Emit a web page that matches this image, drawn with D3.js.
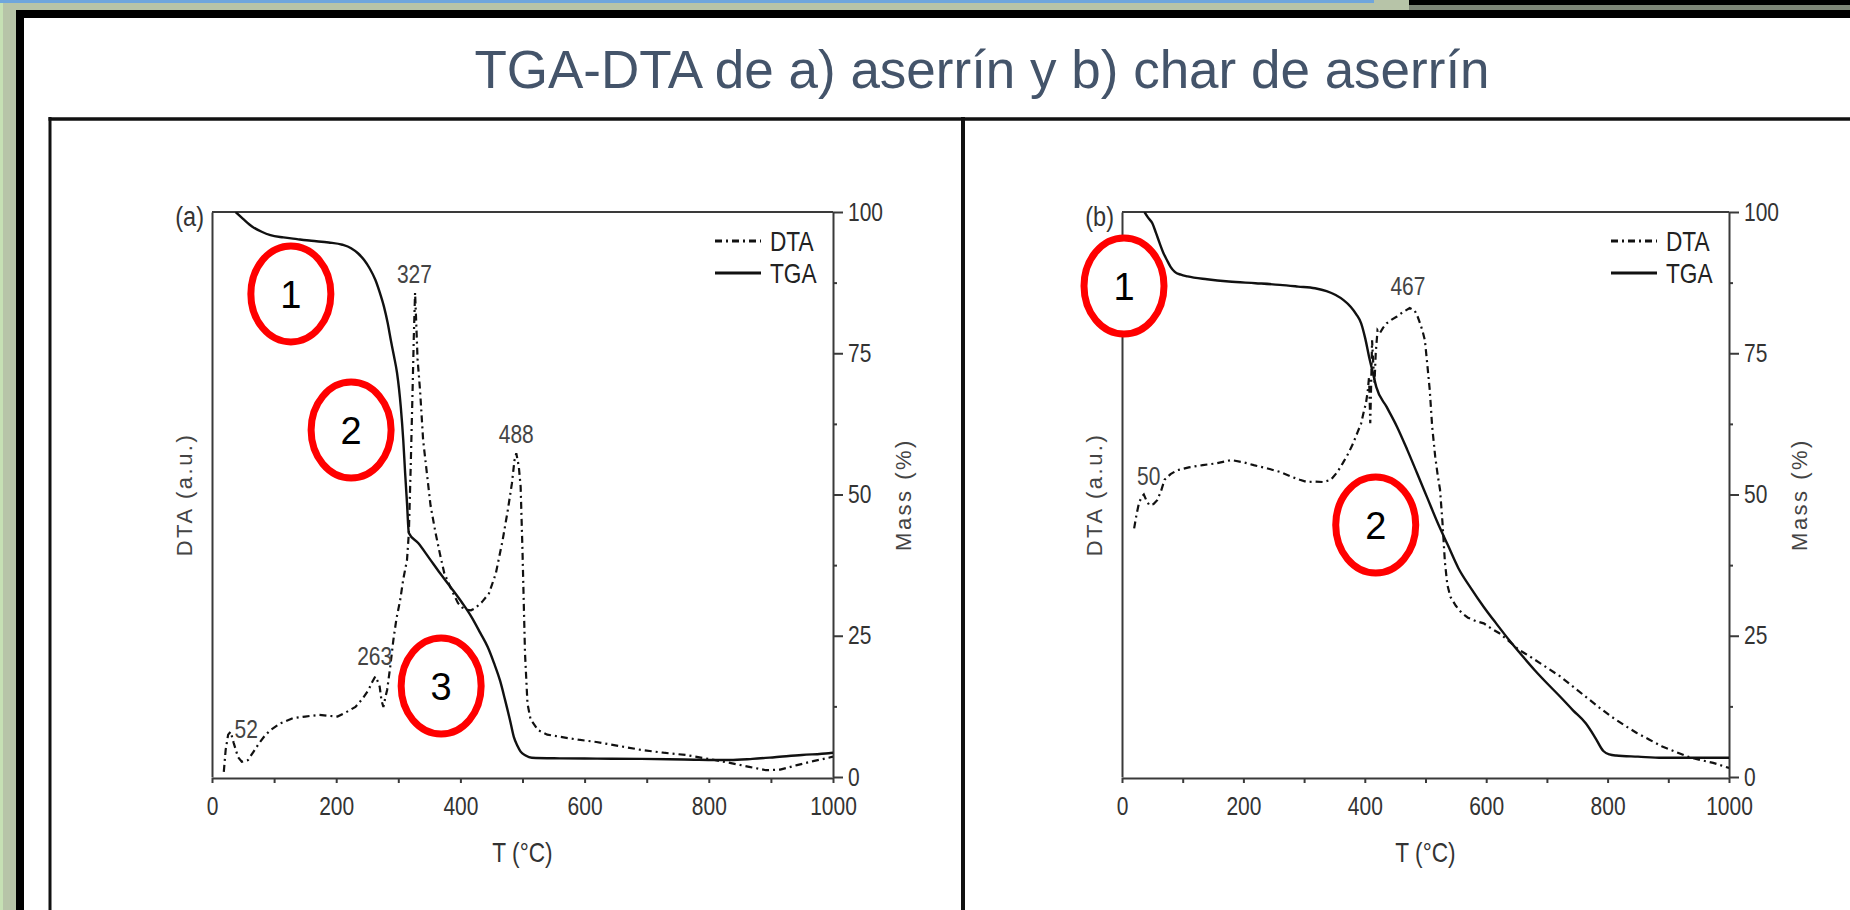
<!DOCTYPE html>
<html>
<head>
<meta charset="utf-8">
<script src="https://cdn.jsdelivr.net/npm/d3@7"></script>
<style>
	body { margin: 0; background: #fff; overflow: hidden; }
	svg { display: block; }
	/* no narrow face installed, so squeeze the regular one */
	.narrow, .axis text {
		font-family: "Liberation Sans Narrow", "Arial Narrow", "Liberation Sans", Arial, sans-serif;
		transform-box: fill-box;
		transform: scaleX(0.84);
	}
	.anchor-mid { transform-origin: center; }
	.anchor-start { transform-origin: left center; }
	.anchor-end { transform-origin: right center; }
	.axis text { font-size: 25px; fill: #333; }
	.axis path, .axis line { stroke: #3a3a3a; stroke-width: 2; }
</style>
</head>
<body>
<div id="chart"></div>
<script>
// ---- data ----
let x_ticks = [0, 200, 400, 600, 800, 1000];
let mass_ticks = [0, 25, 50, 75, 100];

// (a) sawdust
let tga_temp_a = [38, 50, 65, 80, 94, 115, 137, 160, 188, 210, 224, 235, 245, 254, 263, 270, 277, 283, 288, 293, 298, 304, 308, 311, 314, 317, 332, 350, 367, 385, 403, 418, 432, 444, 454, 464, 472, 480, 486, 492, 497, 505, 515, 560, 620, 691, 760, 834, 870, 906, 950, 993, 1000];
let tga_mass_a = [100, 98.8, 97.4, 96.5, 95.9, 95.5, 95.2, 94.9, 94.6, 94.2, 93.6, 92.7, 91.5, 90, 88, 85.8, 83.2, 80.3, 77.3, 74.5, 71.5, 65.5, 59.6, 53.8, 48.5, 43.2, 41.4, 38.7, 36.1, 33.5, 30.8, 28.3, 25.5, 23, 20.2, 17, 13.6, 10, 7.1, 5.5, 4.5, 3.8, 3.4, 3.3, 3.25, 3.2, 3.1, 3.0, 3.2, 3.5, 3.9, 4.2, 4.3];
let dta_temp_a = [19, 22, 26, 30, 35, 42, 48, 58, 67, 76, 85, 94, 110, 130, 150, 173, 190, 202, 215, 231, 242, 252, 258, 263, 267, 270, 273, 276, 279, 282, 287, 292, 297, 303, 308, 314, 317, 320, 323, 325, 327, 329, 331, 335, 340, 346, 352, 360, 367, 374, 385, 396, 403, 410, 417, 424, 435, 446, 457, 468, 476, 483, 487, 490, 494, 497, 500, 504, 508, 513, 525, 540, 561, 590, 619, 655, 691, 727, 763, 800, 834, 865, 892, 915, 942, 968, 993, 1000];
let dta_val_a = [0.9, 4.8, 7.5, 8, 6, 3.5, 2.7, 3, 4.5, 6, 7.3, 8.3, 9.5, 10.4, 10.7, 11, 10.8, 10.7, 11.4, 12.4, 13.8, 15.4, 16.8, 17.8, 16.9, 16, 13.5, 12.4, 14, 15.4, 19.5, 24.2, 28, 31.3, 35, 38.4, 43.2, 55, 68.5, 78, 85.7, 80, 74, 68.5, 59.6, 53.8, 48, 43.2, 39.5, 36.1, 33.3, 30.8, 30, 29.6, 29.5, 29.9, 31, 32.5, 36, 41.9, 47, 52, 56, 57.3, 55, 51.4, 40, 22, 13, 10.2, 8.3, 7.5, 7.1, 6.6, 6.2, 5.5, 4.8, 4.3, 3.9, 3.2, 2.5, 1.8, 1.2, 1.3, 2.1, 2.8, 3.4, 3.6];
let peak_label_a = ["52", "263", "327", "488"];
let peak_temp_a = [55, 262, 326, 490];
let peak_val_a = [6.9, 19.8, 87.4, 59.1];
let stage_label_a = ["1", "2", "3"];
let stage_temp_a = [127, 224, 369];
let stage_mass_a = [85.5, 61.4, 16.1];

// (b) sawdust char
let tga_temp_b = [37, 43, 50, 56, 62, 68, 74, 80, 87, 97, 108, 140, 176, 220, 260, 290, 318, 337, 352, 365, 377, 386, 394, 401, 407, 413, 419, 436, 453, 470, 486, 503, 520, 537, 554, 575, 596, 617, 638, 659, 680, 701, 722, 743, 764, 780, 793, 803, 814, 850, 890, 950, 1000];
let tga_mass_b = [100, 99, 98, 96.3, 94.5, 92.8, 91.5, 90.3, 89.4, 88.9, 88.6, 88.1, 87.7, 87.4, 87.1, 86.8, 86.5, 86, 85.3, 84.4, 83.2, 81.9, 80.3, 77.5, 74.4, 71.7, 69, 65.5, 62, 57.9, 53.8, 49.4, 45, 41, 37, 33.4, 30.1, 27.1, 24.2, 21.5, 18.9, 16.5, 14.2, 11.8, 9.5, 6.9, 4.6, 4.0, 3.8, 3.6, 3.4, 3.4, 3.4];
let dta_temp_b = [20, 24, 28, 32, 36, 40, 45, 52, 58, 64, 70, 80, 91, 110, 133, 155, 180, 200, 217, 240, 260, 278, 293, 305, 318, 332, 344, 355, 364, 373, 381, 388, 394, 398, 402, 405, 407, 409, 411, 412, 414, 416, 418, 421, 425, 430, 436, 445, 453, 463, 474, 482, 487, 491, 495, 499, 503, 507, 511, 516, 520, 524, 528, 532, 536, 541, 550, 560, 570, 583, 596, 608, 621, 638, 654, 671, 688, 705, 722, 743, 764, 785, 806, 827, 848, 869, 890, 911, 932, 953, 974, 1000];
let dta_val_b = [44, 46.5, 48.5, 49.5, 50, 49, 48.1, 48.3, 49, 50.5, 52.6, 53.6, 54.3, 54.8, 55.2, 55.5, 56.1, 55.7, 55.2, 54.6, 54, 53.2, 52.6, 52.2, 52.3, 52.2, 52.6, 54, 55.6, 57.3, 59.1, 61, 62.6, 64.5, 66.2, 68.5, 70.8, 62.6, 72, 77.3, 73, 69.7, 75, 79.1, 78.6, 79.5, 80.3, 81, 81.5, 82.3, 83, 82.6, 81.5, 80.3, 79, 77.3, 73, 68.5, 62, 56.7, 53.5, 50.8, 45, 38, 34, 31.9, 30.3, 29, 28.2, 27.6, 27.2, 26.3, 25.5, 24, 22.5, 21.4, 20.2, 19, 17.8, 16, 14.2, 12.4, 10.7, 9.2, 7.8, 6.6, 5.4, 4.5, 3.6, 3, 2.5, 1.6];
let peak_label_b = ["50", "467"];
let peak_temp_b = [44, 471];
let peak_val_b = [51.7, 85.3];
let stage_label_b = ["1", "2"];
let stage_temp_b = [3.3, 418];
let stage_mass_b = [86.9, 44.6];

let width = 1850;
let height = 910;

let svg = d3.select("#chart")
	.append("svg")
	.attr("width", width)
	.attr("height", height);

// ---- slide chrome ----
svg.append("rect").attr("x", 0).attr("y", 0).attr("width", 16).attr("height", height).attr("fill", "#b7c4a8");
svg.append("rect").attr("x", 0).attr("y", 0).attr("width", 3).attr("height", height).attr("fill", "#c6e0b4");
svg.append("rect").attr("x", 3).attr("y", 0).attr("width", width).attr("height", 10).attr("fill", "#b7c4a8");
svg.append("rect").attr("x", 0).attr("y", 0).attr("width", 1374).attr("height", 3).attr("fill", "#6fa6dc");
svg.append("rect").attr("x", 1409).attr("y", 0).attr("width", width).attr("height", 5).attr("fill", "#000");
svg.append("rect").attr("x", 1409).attr("y", 5).attr("width", width).attr("height", 5).attr("fill", "#7d8677");
svg.append("rect").attr("x", 16).attr("y", 10).attr("width", width).attr("height", 8).attr("fill", "#000");
svg.append("rect").attr("x", 16).attr("y", 10).attr("width", 8).attr("height", height).attr("fill", "#000");

svg.append("text")
	.attr("x", 982)
	.attr("y", 88)
	.attr("text-anchor", "middle")
	.attr("font-family", "'Liberation Sans', Arial, sans-serif")
	.attr("font-size", 53)
	.attr("fill", "#44546a")
	.text("TGA-DTA de a) aserrín y b) char de aserrín");

// picture frame
svg.append("line").attr("x1", 48.5).attr("x2", width).attr("y1", 119).attr("y2", 119).attr("stroke", "#111").attr("stroke-width", 3.5);
svg.append("line").attr("x1", 50).attr("x2", 50).attr("y1", 117).attr("y2", height).attr("stroke", "#111").attr("stroke-width", 3);
svg.append("line").attr("x1", 963).attr("x2", 963).attr("y1", 117).attr("y2", height).attr("stroke", "#111").attr("stroke-width", 4);

let panels = [
	{ id: "a", left: 212, right: 833, tag: "(a)",
		tga_t: tga_temp_a, tga_m: tga_mass_a, dta_t: dta_temp_a, dta_v: dta_val_a,
		pk_l: peak_label_a, pk_t: peak_temp_a, pk_v: peak_val_a,
		st_l: stage_label_a, st_t: stage_temp_a, st_m: stage_mass_a },
	{ id: "b", left: 1122, right: 1729, tag: "(b)",
		tga_t: tga_temp_b, tga_m: tga_mass_b, dta_t: dta_temp_b, dta_v: dta_val_b,
		pk_l: peak_label_b, pk_t: peak_temp_b, pk_v: peak_val_b,
		st_l: stage_label_b, st_t: stage_temp_b, st_m: stage_mass_b },
];

let plot_top = 212;
let plot_bottom = 777;

panels.forEach(function (p) {
	let x = d3.scaleLinear().domain([0, 1000]).range([p.left, p.right]);
	let y = d3.scaleLinear().domain([0, 100]).range([plot_bottom, plot_top]);

	let g = svg.append("g");

	g.append("clipPath")
		.attr("id", "clip-" + p.id)
		.append("rect")
		.attr("x", p.left)
		.attr("y", plot_top)
		.attr("width", p.right - p.left)
		.attr("height", plot_bottom - plot_top + 1);

	// top border
	g.append("line")
		.attr("x1", p.left).attr("x2", p.right)
		.attr("y1", plot_top).attr("y2", plot_top)
		.attr("stroke", "#3a3a3a").attr("stroke-width", 2);

	// x axis
	g.append("g")
		.attr("class", "axis")
		.attr("transform", "translate(0," + (plot_bottom + 1) + ")")
		.call(d3.axisBottom(x)
			.tickValues(d3.range(0, 1001, 100))
			.tickFormat((d) => (x_ticks.includes(d) ? d : ""))
			.tickSizeInner(5).tickSizeOuter(0).tickPadding(14))
		.call((a) => a.selectAll(".tick text").attr("class", "anchor-mid"));

	// left DTA axis, no ticks
	g.append("g")
		.attr("class", "axis")
		.attr("transform", "translate(" + p.left + ",0)")
		.call(d3.axisLeft(y).tickValues([]).tickSizeOuter(0));

	// right mass axis
	g.append("g")
		.attr("class", "axis")
		.attr("transform", "translate(" + p.right + ",0)")
		.call(d3.axisRight(y).tickValues(mass_ticks).tickSizeInner(10).tickSizeOuter(0).tickPadding(5))
		.call((a) => a.selectAll(".tick text").attr("class", "anchor-start"));
	g.append("g")
		.attr("class", "axis")
		.attr("transform", "translate(" + p.right + ",0)")
		.call(d3.axisRight(y).tickValues([12.5, 37.5, 62.5, 87.5]).tickFormat("").tickSizeInner(4).tickSizeOuter(0))
		.call((a) => a.select(".domain").remove());

	// curves
	let plot = g.append("g").attr("clip-path", "url(#clip-" + p.id + ")");

	let dta_line = d3.line()
		.x((i) => x(p.dta_t[i]))
		.y((i) => y(p.dta_v[i]));
	plot.append("path")
		.attr("d", dta_line(d3.range(p.dta_t.length)))
		.attr("fill", "none")
		.attr("stroke", "#111")
		.attr("stroke-width", 2.2)
		.attr("stroke-dasharray", "7,4,2,4");

	let tga_line = d3.line()
		.curve(d3.curveMonotoneX)
		.x((i) => x(p.tga_t[i]))
		.y((i) => y(p.tga_m[i]));
	plot.append("path")
		.attr("d", tga_line(d3.range(p.tga_t.length)))
		.attr("fill", "none")
		.attr("stroke", "#111")
		.attr("stroke-width", 2.4);

	// peak labels
	g.selectAll(".peak")
		.data(d3.range(p.pk_l.length))
		.enter()
		.append("text")
		.attr("class", "narrow anchor-mid")
		.attr("x", (i) => x(p.pk_t[i]))
		.attr("y", (i) => y(p.pk_v[i]))
		.attr("text-anchor", "middle")
		.attr("font-size", 25)
		.attr("fill", "#444")
		.text((i) => p.pk_l[i]);

	// panel tag
	g.append("text")
		.attr("class", "narrow anchor-end")
		.attr("x", p.left - 8)
		.attr("y", plot_top + 14)
		.attr("text-anchor", "end")
		.attr("font-size", 28)
		.attr("fill", "#333")
		.text(p.tag);

	// axis titles
	g.append("text")
		.attr("class", "narrow anchor-mid")
		.attr("x", (p.left + p.right) / 2)
		.attr("y", 862)
		.attr("text-anchor", "middle")
		.attr("font-size", 27)
		.attr("fill", "#333")
		.text("T (°C)");

	g.append("text")
		.attr("transform", "translate(" + (p.left - 20) + "," + (plot_top + plot_bottom) / 2 + ") rotate(-90)")
		.attr("text-anchor", "middle")
		.attr("font-family", "'Liberation Sans', Arial, sans-serif")
		.attr("font-size", 22)
		.attr("letter-spacing", 2.5)
		.attr("fill", "#444")
		.text("DTA (a.u.)");

	g.append("text")
		.attr("transform", "translate(" + (p.right + 78) + "," + (plot_top + plot_bottom) / 2 + ") rotate(-90)")
		.attr("text-anchor", "middle")
		.attr("font-family", "'Liberation Sans', Arial, sans-serif")
		.attr("font-size", 22)
		.attr("letter-spacing", 2.5)
		.attr("fill", "#444")
		.text("Mass (%)");

	// legend
	let legend = g.append("g").attr("transform", "translate(" + (p.right - 118) + "," + plot_top + ")");
	[["DTA", "7,4,2,4", 29], ["TGA", null, 61]].forEach(function (l) {
		legend.append("line")
			.attr("x1", 0).attr("x2", 46)
			.attr("y1", l[2]).attr("y2", l[2])
			.attr("stroke", "#111")
			.attr("stroke-width", 3)
			.attr("stroke-dasharray", l[1]);
		legend.append("text")
			.attr("class", "narrow anchor-start")
			.attr("x", 55)
			.attr("y", l[2])
			.attr("dy", "0.36em")
			.attr("font-size", 27)
			.attr("fill", "#222")
			.text(l[0]);
	});

	// red stage markers
	let stages = g.selectAll(".stage")
		.data(d3.range(p.st_l.length))
		.enter()
		.append("g")
		.attr("transform", (i) => "translate(" + x(p.st_t[i]) + "," + y(p.st_m[i]) + ")");
	stages.append("ellipse")
		.attr("rx", 40)
		.attr("ry", 48)
		.attr("fill", "#fff")
		.attr("stroke", "#ff0000")
		.attr("stroke-width", 7);
	stages.append("text")
		.attr("text-anchor", "middle")
		.attr("dy", "0.36em")
		.attr("font-family", "'Liberation Sans', Arial, sans-serif")
		.attr("font-size", 38)
		.attr("fill", "#000")
		.text((i) => p.st_l[i]);
});
</script>
</body>
</html>
